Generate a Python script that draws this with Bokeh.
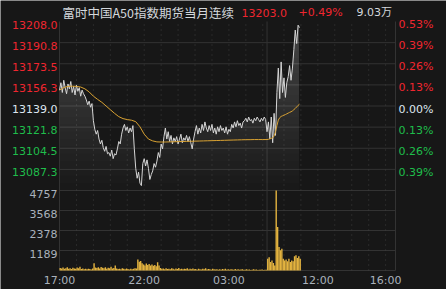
import numpy as np
from bokeh.plotting import figure
from bokeh.models import Range1d
from bokeh.core.properties import value
from bokeh.embed import file_html
from bokeh.resources import INLINE

# ---------------- data ----------------
title_text = "富时中国A50指数期货当月连续"
last_price = "13203.0"
change_pct = "+0.49%"
volume_total = "9.03万"

prev_close = 13139.0
price_top = 13208.0
price_bottom = 13070.0
price_ticks = [13208.0, 13190.75, 13173.5, 13156.25, 13139.0, 13121.75, 13104.5, 13087.25]
price_labels = ["13208.0", "13190.8", "13173.5", "13156.3", "13139.0", "13121.8", "13104.5", "13087.3"]
pct_labels = ["0.53%", "0.39%", "0.26%", "0.13%", "0.00%", "0.13%", "0.26%", "0.39%"]
vol_max = 4757
vol_ticks = [4757, 3568, 2378, 1189]
vol_labels = ["4757", "3568", "2378", "1189"]
time_ticks = ["17:00", "22:00", "03:00", "12:00", "16:00"]
hour_lines = ["18:00", "19:00", "20:00", "21:00", "22:00", "23:00", "00:00", "01:00", "02:00",
              "03:00", "04:00", "05:00", "10:00", "11:00", "12:00", "13:00", "14:00", "15:00", "16:00"]
session_break = "09:00"

# night session (from 17:00) and day session (from 09:00), one value every 5 minutes
night_price = [13152, 13158, 13150, 13160, 13154, 13149, 13157, 13153, 13159, 13150, 13155, 13148,
               13156, 13151, 13154, 13147, 13152, 13149,
               13147, 13144, 13140, 13143, 13138, 13141,
               13127,
               13120, 13116, 13119, 13112, 13108, 13111, 13105, 13102, 13106, 13100,
               13101, 13098, 13103, 13096, 13100, 13099,
               13104, 13110, 13108, 13116, 13121,
               13124, 13119, 13122, 13117, 13121, 13118, 13123,
               13104,
               13088, 13080, 13085, 13076, 13074,
               13092, 13096, 13090, 13095, 13088,
               13079, 13083, 13086,
               13092, 13089, 13094,
               13101, 13097, 13108, 13104,
               13114, 13121,
               13112, 13118, 13110, 13115, 13108, 13113,
               13110, 13114, 13108, 13112, 13116, 13109, 13113, 13111, 13115, 13110, 13114, 13109, 13104, 13112,
               13118, 13123, 13116, 13121, 13117, 13124, 13119, 13126, 13121,
               13118, 13123, 13119, 13124, 13117, 13121, 13116, 13122, 13118, 13123, 13119, 13121,
               13117, 13122, 13116, 13120, 13118,
               13124, 13121, 13126, 13122, 13127, 13123, 13125, 13121, 13126,
               13127, 13129, 13126, 13130, 13127, 13128, 13125, 13129, 13127, 13130, 13128, 13126, 13129,
               13127, 13130, 13128]
day_price = [13118, 13126, 13112, 13130, 13109, 13133, 13115, 13150, 13170, 13145, 13175, 13150,
             13162, 13146, 13158, 13163, 13172, 13160, 13170, 13185, 13201, 13190, 13205, 13203]

night_vol = [150, 120, 180, 100, 140, 200, 110, 130, 90, 160, 120, 100, 180, 140, 220,
             90, 120, 80, 100, 70, 110, 90, 60, 120,
             430,
             180, 150, 200, 120, 210, 160, 130, 190, 110, 170, 140, 230, 120, 150, 300,
             120, 90, 110, 80, 130, 100, 70, 120, 90, 60, 110, 80, 100, 140, 120,
             650, 520, 560,
             430, 350, 300, 410, 330, 380, 300, 360, 280, 320, 250,
             495, 300,
             150, 100, 120, 80, 140, 90, 110, 70, 130, 100, 60, 120, 90, 150, 80, 100, 70, 110, 90, 130,
             60, 100, 80, 120, 70, 90, 50, 110, 80, 60, 100, 70, 130, 60, 90, 80, 50, 100, 70, 60,
             80, 50, 70, 40, 90, 60, 110, 50, 70, 40, 80, 60, 50, 90, 40, 70, 50, 60, 80, 40,
             50, 70, 40, 60, 30, 50, 80, 40, 60, 30, 50, 40, 60, 30, 50, 40]
day_vol = [700, 790, 500, 600, 450, 300, 4757, 2580, 1400, 1200, 1300, 700,
           600, 650, 550, 700, 500, 600, 550, 850, 900, 750, 850, 700]

# average price: night every 15 minutes, day every 5 minutes
night_avg = [13152, 13154, 13155, 13155.2, 13155, 13154.5, 13153, 13150.5, 13147, 13144.4, 13142,
             13139, 13136, 13133, 13130.3, 13128.7, 13127.9, 13127.4, 13126.2, 13122, 13116, 13112,
             13110.5, 13109.7, 13109.6, 13109.6, 13109.7, 13109.8, 13109.9, 13110, 13110.1, 13110.2,
             13110.3, 13110.4, 13110.5, 13110.6, 13110.7, 13110.8, 13110.9, 13111, 13111.1, 13111.2,
             13111.3, 13111.4, 13111.5, 13111.5, 13111.6, 13111.6, 13111.6]
day_avg = [13111.6, 13111.8, 13112.2, 13112.6, 13113, 13114.5, 13118, 13123, 13127.5, 13129.5,
           13130.5, 13131, 13131.5, 13132, 13132.6, 13133.2, 13133.8, 13134.3, 13135, 13136,
           13137, 13138.2, 13139.5, 13140.5]

# ---------------- trading-time axis ----------------
NIGHT_LEN = 735   # 17:00 -> 05:15
DAY_LEN = 455     # 09:00 -> 16:35
TOTAL = NIGHT_LEN + DAY_LEN


def tmin(hhmm):
    h, m = map(int, hhmm.split(":"))
    t = h * 60 + m
    if t >= 17 * 60:
        return t - 17 * 60
    if t < 9 * 60:
        return t + 7 * 60
    return NIGHT_LEN + (t - 9 * 60)


night_x = np.arange(len(night_price)) * 5
day_x = NIGHT_LEN + np.arange(len(day_price)) * 5
px = np.concatenate([night_x, day_x]).astype(float)
pp = np.array(night_price + day_price, dtype=float)
vx = np.concatenate([np.arange(len(night_vol)) * 5, NIGHT_LEN + np.arange(len(day_vol)) * 5]) + 2.5
vv = np.array(night_vol + day_vol, dtype=float)
ax = np.concatenate([np.arange(len(night_avg)) * 15, NIGHT_LEN + np.arange(len(day_avg)) * 5]).astype(float)
av = np.array(night_avg + day_avg, dtype=float)

# ---------------- geometry (pixels of the 446x289 canvas) ----------------
W, H = 446, 289
PL, PR = 59, 395          # plot panel left / right
PT, PS, PB = 21, 190, 270  # price top, separator, volume bottom
kx = (PR - PL) / TOTAL            # px per minute
ky = (PS - PT) / (price_top - price_bottom)   # px per price unit
kv = (PB - PS) / vol_max          # px per volume unit


def X(pix):   # canvas pixel -> x data
    return (pix - PL) / kx


def Y(pix):   # canvas pixel -> price data
    return price_top - (pix - PT) / ky


BG = "#171717"
GRID = "#333333"
RED = "#f0262f"
GREEN = "#1fbe4b"
WHITE = "#dde6ef"
GREY = "#aab2bc"
YELLOW = "#e3b33f"
AVG = "#d9a232"
FONT = "DejaVu Sans"

p = figure(width=W, height=H, x_range=Range1d(X(0), X(W)), y_range=Range1d(Y(H), Y(0)),
           output_backend="svg", toolbar_location=None, x_axis_location=None, y_axis_location=None,
           min_border=0, background_fill_color=BG, border_fill_color=BG, outline_line_color=None)
p.extra_y_ranges = {"vol": Range1d(-(H - PB) / kv, vol_max + (PS - 0) / kv)}
p.xgrid.visible = False
p.ygrid.visible = False

# horizontal grid lines
hy = price_ticks[1:] + [price_bottom]
p.segment(x0=[0] * len(hy), x1=[TOTAL] * len(hy), y0=hy, y1=hy, line_color=GRID, line_width=1)
vy = vol_ticks[1:] + [0]
p.segment(x0=[0] * len(vy), x1=[TOTAL] * len(vy), y0=vy, y1=vy, line_color=GRID, line_width=1,
          y_range_name="vol")
# vertical grid lines
hx = [tmin(t) for t in hour_lines]
p.segment(x0=hx, x1=hx, y0=[Y(PB)] * len(hx), y1=[price_top] * len(hx), line_color="#3e3e3e",
          line_width=1, line_dash="1 4")
sx = [0, TOTAL, tmin(session_break)]
p.segment(x0=sx, x1=sx, y0=[Y(PB)] * 3, y1=[price_top] * 3, line_color=GRID, line_width=1)

# gradient fill under price line (stacked translucent layers)
levels = np.linspace(price_bottom, price_top, 24)[:-1]
for L in levels:
    p.varea(x=px, y1=L, y2=np.maximum(pp, L), fill_color="white", fill_alpha=0.011)

# volume bars
p.vbar(x=vx, top=vv, bottom=0, width=5, fill_color=YELLOW, line_color=None, y_range_name="vol")

# price and average lines
p.line(px, pp, line_color="#d6d6d6", line_width=1)
p.line(ax, av, line_color=AVG, line_width=1)

# axis labels as text
colors = [RED if t > prev_close + 1e-6 else (WHITE if abs(t - prev_close) < 1e-6 else GREEN)
          for t in price_ticks]
ly = [t - 3 / ky for t in price_ticks]
p.text(x=[X(PL - 2)] * len(ly), y=ly, text=price_labels, text_color=colors, text_align="right",
       text_baseline="middle", text_font=value(FONT), text_font_size=value("11px"))
p.text(x=[X(PR + 3)] * len(ly), y=ly, text=pct_labels, text_color=colors, text_align="left",
       text_baseline="middle", text_font=value(FONT), text_font_size=value("11px"))
p.text(x=[X(PL - 2)] * len(vol_ticks), y=[v - 3.5 / kv for v in vol_ticks], text=vol_labels,
       text_color=GREY, text_align="right", text_baseline="middle", text_font=value(FONT),
       text_font_size=value("11px"), y_range_name="vol")
p.text(x=[tmin(t) for t in time_ticks], y=[Y(280)] * len(time_ticks), text=time_ticks,
       text_color=GREY, text_align="center", text_baseline="middle", text_font=value(FONT),
       text_font_size=value("11px"))

# header
hy_ = Y(12)
p.text(x=[X(62)], y=[hy_], text=[title_text], text_color="#d4d8dc", text_align="left",
       text_baseline="middle", text_font=value("Noto Sans CJK SC"), text_font_size=value("12.5px"))
p.text(x=[X(241), X(298)], y=[hy_, hy_], text=[last_price, change_pct], text_color=RED,
       text_align="left", text_baseline="middle", text_font=value(FONT), text_font_size=value("11px"))
p.text(x=[X(356)], y=[hy_], text=[volume_total], text_color="#d4d8dc", text_align="left",
       text_baseline="middle", text_font=value("DejaVu Sans, Noto Sans CJK SC"),
       text_font_size=value("11px"))

open("out.html", "w").write(file_html(p, INLINE))
